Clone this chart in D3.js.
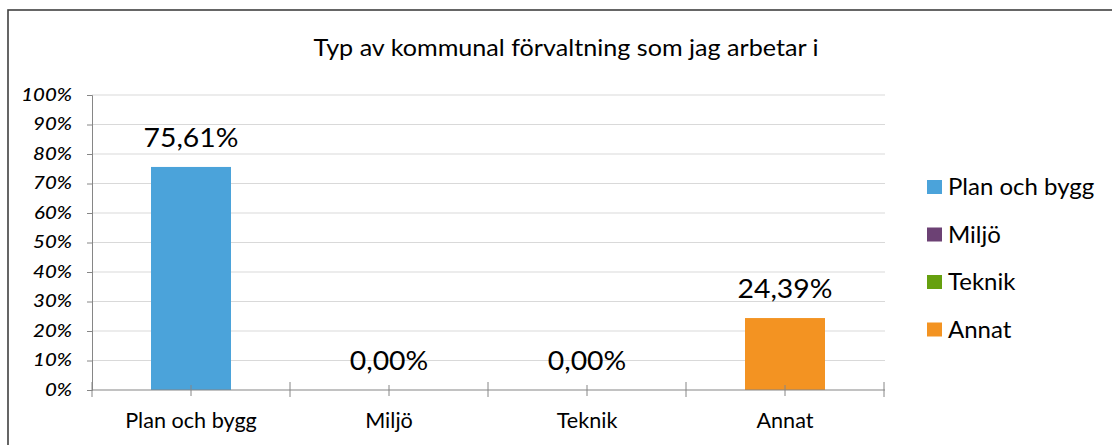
<!DOCTYPE html>
<html><head><meta charset="utf-8">
<script src="https://cdn.jsdelivr.net/npm/d3@7"></script>
<style>body{margin:0;background:#fff;}svg{display:block;font-family:Lato,"Open Sans",sans-serif;}</style>
</head><body>
<svg id="c" width="1112" height="445"></svg>
<script>
const title = "Typ av kommunal förvaltning som jag arbetar i";
const categories = ["Plan och bygg", "Miljö", "Teknik", "Annat"];
const values = [75.61, 0.00, 0.00, 24.39];
const colors = ["#4BA3DA", "#6C4174", "#66A00F", "#F39322"];
const yTicks = [0,10,20,30,40,50,60,70,80,90,100];

const svg = d3.select("#c");
const fmt = v => v.toFixed(2).replace(".", ",") + "%";

function stext(sel, x, y, size, sx, anchor){
  return sel.attr("transform", (d,i)=>`translate(${typeof x==="function"?x(d,i):x},${typeof y==="function"?y(d,i):y}) scale(${sx},1)`)
    .attr("font-size", size).attr("text-anchor", anchor).attr("fill","#000");
}

// outer border
svg.append("rect").attr("x",8).attr("y",10).attr("width",1110).attr("height",445)
  .attr("fill","none").attr("stroke","#404040").attr("stroke-width",1.6);

stext(svg.append("text").text(title), 566, 55.5, 23.5, 1.07, "middle");

const x = d3.scaleBand().domain(categories).range([92,884]).paddingInner(0).paddingOuter(0);
const y = d3.scaleLinear().domain([0,100]).range([390,95]);

// gridlines
svg.append("g").selectAll("line").data(yTicks.filter(d=>d>0)).join("line")
  .attr("x1",92).attr("x2",885).attr("y1",d=>y(d)).attr("y2",d=>y(d))
  .attr("stroke","#d9d9d9").attr("stroke-width",1);

// y axis
const yAxis = svg.append("g").attr("transform","translate(92,0)")
  .call(d3.axisLeft(y).tickValues(yTicks).tickSize(5).tickFormat(""));
yAxis.select(".domain").attr("stroke","#868686");
yAxis.selectAll(".tick line").attr("stroke","#868686");
stext(svg.append("g").selectAll("text").data(yTicks).join("text").text(d=>d+"%"),
  72, d=>y(d)+5.5, 17, 1.2, "end").attr("font-style","italic").attr("font-weight",500);

// bars
svg.append("g").selectAll("rect").data(categories).join("rect")
  .attr("x",d=>x(d)+x.bandwidth()/2-40).attr("width",80)
  .attr("y",(d,i)=>y(values[i])).attr("height",(d,i)=>y(0)-y(values[i]))
  .attr("fill",(d,i)=>colors[i]);

// x axis
svg.append("line").attr("x1",92).attr("x2",885).attr("y1",390).attr("y2",390)
  .attr("stroke","#868686").attr("stroke-width",1.2);
const bounds = d3.range(categories.length+1).map(i=>92+i*x.bandwidth());
svg.append("g").selectAll("line").data(bounds).join("line")
  .attr("x1",d=>d).attr("x2",d=>d).attr("y1",382).attr("y2",397).attr("stroke","#868686");
svg.append("g").selectAll("line").data(categories).join("line")
  .attr("x1",d=>x(d)+x.bandwidth()/2).attr("x2",d=>x(d)+x.bandwidth()/2)
  .attr("y1",385).attr("y2",396).attr("stroke","#868686");
stext(svg.append("g").selectAll("text").data(categories).join("text").text(d=>d),
  d=>x(d)+x.bandwidth()/2, 428, 21, 1.03, "middle");

// data labels
stext(svg.append("g").selectAll("text").data(categories).join("text").text((d,i)=>fmt(values[i])),
  d=>x(d)+x.bandwidth()/2, (d,i)=>y(values[i])-20, 26, 1.09, "middle");

// legend
const lg = svg.append("g").selectAll("g").data(categories).join("g")
  .attr("transform",(d,i)=>`translate(927,${195+i*47.5})`);
lg.append("rect").attr("x",0).attr("y",-15).attr("width",15).attr("height",14).attr("fill",(d,i)=>colors[i]);
stext(lg.append("text").text(d=>d), 21, 0, 24, 1.0, "start");
</script>
</body></html>
